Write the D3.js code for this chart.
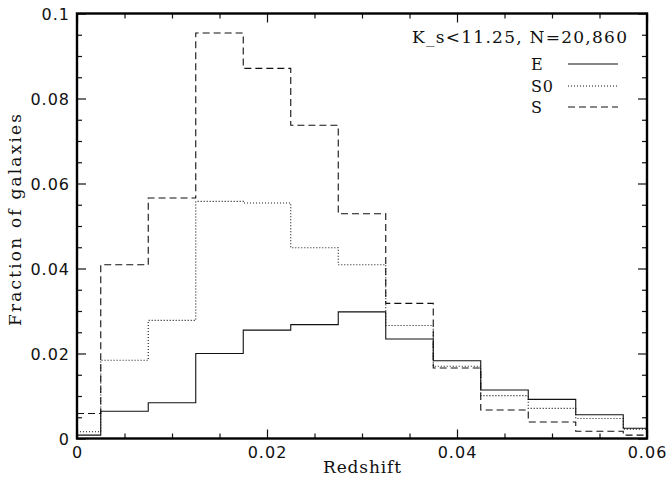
<!DOCTYPE html>
<html>
<head>
<meta charset="utf-8">
<script src="https://cdn.jsdelivr.net/npm/d3@7"></script>
<style>
  html, body { margin: 0; padding: 0; background: #fff; }
  svg { display: block; }
</style>
</head>
<body>
<svg id="chart" width="666" height="478"></svg>
<script>
// ---- data ----
const redshift = [0, 0.005, 0.01, 0.015, 0.02, 0.025, 0.03, 0.035, 0.04, 0.045, 0.05, 0.055, 0.06];
const fracE  = [0.0008, 0.0064, 0.0084, 0.0200, 0.0255, 0.0268, 0.0298, 0.0234, 0.0183, 0.0114, 0.0092, 0.0056, 0.0024];
const fracS0 = [0.0016, 0.0184, 0.0278, 0.0558, 0.0554, 0.0449, 0.0409, 0.0266, 0.0170, 0.0101, 0.0071, 0.0047, 0.0022];
const fracS  = [0.0059, 0.0409, 0.0566, 0.0954, 0.0871, 0.0737, 0.0529, 0.0318, 0.0166, 0.0067, 0.0039, 0.0017, 0.0008];
const binWidth = 0.005;
const xMajorTicks = [0, 0.02, 0.04, 0.06];
const yMajorTicks = [0, 0.02, 0.04, 0.06, 0.08, 0.1];
const seriesNames = ["E", "S0", "S"];
const annotation = "K_s<11.25,  N=20,860";

// ---- layout ----
const L = 77, R = 647, T = 13.5, B = 438.5;
const svg = d3.select("#chart");

const x = d3.scaleLinear().domain([0, 0.06]).range([L, R]);
const y = d3.scaleLinear().domain([0, 0.1]).range([B, T]);

const serif = "'DejaVu Serif', 'Liberation Serif', serif";
const sans = "'DejaVu Sans', sans-serif";

const styles = {
  E:  { dash: null,  width: 1.1, color: "#111" },
  S0: { dash: "1,2", width: 1.1, color: "#111" },
  S:  { dash: "7,4", width: 1.1, color: "#111" }
};

// ---- histograms ----
function stepPoints(vals) {
  const pts = [];
  redshift.forEach((c, i) => {
    const lo = Math.max(0, c - binWidth / 2);
    const hi = Math.min(0.06, c + binWidth / 2);
    pts.push([lo, vals[i]], [hi, vals[i]]);
  });
  return pts;
}
const line = d3.line().x(d => x(d[0])).y(d => y(d[1]));
const seriesData = { E: fracE, S0: fracS0, S: fracS };
const plot = svg.append("g");
seriesNames.forEach(name => {
  const st = styles[name];
  plot.append("path")
    .attr("d", line(stepPoints(seriesData[name])))
    .attr("fill", "none")
    .attr("stroke", st.color)
    .attr("stroke-width", st.width)
    .attr("stroke-dasharray", st.dash);
});

// ---- axes (ticks inward) ----
const fmt = d3.format("~g");
const xMinor = d3.range(0, 0.0601, 0.005).filter(v => !xMajorTicks.some(m => Math.abs(m - v) < 1e-9));
const yMinor = d3.range(0, 0.1001, 0.005).filter(v => !yMajorTicks.some(m => Math.abs(m - v) < 1e-9));

function addAxis(axisFn, scale, g, ticks, size, labels) {
  const ax = axisFn(scale).tickValues(ticks).tickSize(size).tickSizeOuter(0)
    .tickFormat(labels ? fmt : () => "");
  const sel = g.call(ax);
  sel.select(".domain").remove();
  sel.selectAll(".tick line").attr("stroke", "#111").attr("stroke-width", 1.2);
  return sel;
}

// bottom
const gB = svg.append("g").attr("transform", `translate(0,${B})`);
addAxis(d3.axisBottom, x, gB.append("g"), xMajorTicks, -9, true);
addAxis(d3.axisBottom, x, gB.append("g"), xMinor, -5, false);
gB.selectAll("text").attr("y", 8).attr("dy", "0.71em")
  .attr("font-family", sans).attr("font-size", 16).attr("letter-spacing", 1).attr("fill", "#111");
// top
const gT = svg.append("g").attr("transform", `translate(0,${T})`);
addAxis(d3.axisTop, x, gT.append("g"), xMajorTicks, -9, false);
addAxis(d3.axisTop, x, gT.append("g"), xMinor, -5, false);
// left
const gL = svg.append("g").attr("transform", `translate(${L},0)`);
addAxis(d3.axisLeft, y, gL.append("g"), yMajorTicks, -9, true);
addAxis(d3.axisLeft, y, gL.append("g"), yMinor, -5, false);
gL.selectAll("text").attr("x", -7).attr("dy", "0.36em")
  .attr("font-family", sans).attr("font-size", 16).attr("letter-spacing", 1).attr("fill", "#111");
// right
const gR = svg.append("g").attr("transform", `translate(${R},0)`);
addAxis(d3.axisRight, y, gR.append("g"), yMajorTicks, -9, false);
addAxis(d3.axisRight, y, gR.append("g"), yMinor, -5, false);

// frame
svg.append("rect")
  .attr("x", L).attr("y", T).attr("width", R - L).attr("height", B - T)
  .attr("fill", "none").attr("stroke", "#000").attr("stroke-width", 2.4);

// ---- axis titles ----
svg.append("text")
  .attr("x", (L + R) / 2).attr("y", 473)
  .attr("text-anchor", "middle")
  .attr("font-family", serif).attr("font-size", 17).attr("fill", "#111")
  .attr("textLength", 78).attr("lengthAdjust", "spacing")
  .text("Redshift");
svg.append("text")
  .attr("transform", `translate(21,${(T + B) / 2 - 6}) rotate(-90)`)
  .attr("text-anchor", "middle")
  .attr("font-family", serif).attr("font-size", 17).attr("fill", "#111")
  .attr("textLength", 212).attr("lengthAdjust", "spacing")
  .text("Fraction of  galaxies");

// ---- annotation & legend ----
svg.append("text")
  .attr("x", 412).attr("y", 43)
  .attr("font-family", serif).attr("font-size", 17).attr("fill", "#111")
  .attr("textLength", 215).attr("lengthAdjust", "spacing")
  .text(annotation);

const legendLineY = [64, 86, 107];
seriesNames.forEach((name, i) => {
  const st = styles[name];
  svg.append("text")
    .attr("x", 531).attr("y", legendLineY[i] + 6)
    .attr("font-family", serif).attr("font-size", 16).attr("fill", "#111")
    .attr("textLength", name.length === 2 ? 22 : 11).attr("lengthAdjust", "spacing")
    .text(name);
  svg.append("line")
    .attr("x1", 568).attr("x2", 618)
    .attr("y1", legendLineY[i]).attr("y2", legendLineY[i])
    .attr("stroke", st.color).attr("stroke-width", st.width)
    .attr("stroke-dasharray", st.dash);
});
</script>
</body>
</html>
